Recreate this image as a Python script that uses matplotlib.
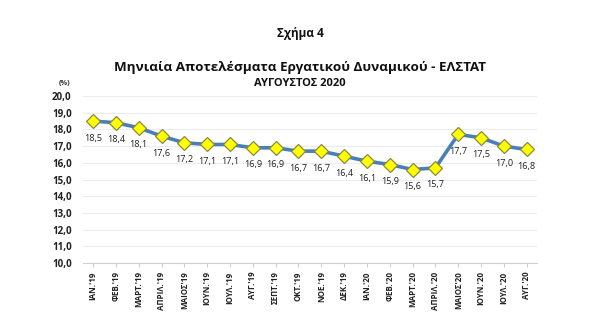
import matplotlib
matplotlib.use("Agg")
import matplotlib.pyplot as plt

plt.rcParams['font.family'] = ['Open Sans', 'DejaVu Sans']

months = ["ΙΑΝ.'19", "ΦΕΒ.'19", "ΜΑΡΤ.'19", "ΑΠΡΙΛ.'19", "ΜΑΙΟΣ'19", "ΙΟΥΝ.'19",
          "ΙΟΥΛ.'19", "ΑΥΓ.'19", "ΣΕΠΤ.'19", "ΟΚΤ.'19", "ΝΟΕ.'19", "ΔΕΚ.'19",
          "ΙΑΝ.'20", "ΦΕΒ.'20", "ΜΑΡΤ.'20", "ΑΠΡΙΛ.'20", "ΜΑΙΟΣ'20", "ΙΟΥΝ.'20",
          "ΙΟΥΛ.'20", "ΑΥΓ.'20"]
rates = [18.5, 18.4, 18.1, 17.6, 17.2, 17.1, 17.1, 16.9, 16.9, 16.7, 16.7, 16.4,
         16.1, 15.9, 15.6, 15.7, 17.7, 17.5, 17.0, 16.8]
y_ticks = [10, 11, 12, 13, 14, 15, 16, 17, 18, 19, 20]

fig = plt.figure(figsize=(6, 3.31), dpi=100)
ax = fig.add_axes([0.138, 0.205, 0.757, 0.505])

x = list(range(len(months)))
ax.plot(x, rates, color='#4a7ebb', lw=2.6, zorder=2)
ax.plot(x, rates, ls='none', marker='D', ms=7.5, mfc='#ffff00', mec='#8a8a3a',
        mew=0.9, zorder=3)

for xi, v in zip(x, rates):
    ax.annotate(f"{v:.1f}".replace('.', ','), (xi, v), xytext=(0, -9),
                textcoords='offset points', ha='center', va='top',
                fontsize=6.6, color='#222222')

ax.set_ylim(10, 20)
ax.set_xlim(-0.45, 19.45)
ax.set_yticks(y_ticks)
ax.set_yticklabels([f"{t:.1f}".replace('.', ',') for t in y_ticks],
                   fontsize=7, fontweight='bold', color='#222222')
ax.set_xticks(x)
ax.set_xticklabels(months, rotation=90, fontsize=5.8, fontweight='bold',
                   color='#222222')
ax.tick_params(axis='y', length=0, pad=8)
ax.tick_params(axis='x', length=3, color='#cccccc', pad=3)
ax.grid(axis='y', color='#ececec', lw=0.8)
ax.set_axisbelow(True)
for s in ['top', 'right', 'left']:
    ax.spines[s].set_visible(False)
ax.spines['bottom'].set_color('#d0d0d0')

fig.text(0.5, 0.9, "Σχήμα 4", ha='center', va='center', fontsize=8.5,
         fontweight='bold', color='#111111')
fig.text(0.5, 0.797, "Μηνιαία Αποτελέσματα Εργατικού Δυναμικού - ΕΛΣΤΑΤ",
         ha='center', va='center', fontsize=9.7, fontweight='bold', color='#111111')
fig.text(0.5, 0.749, "ΑΥΓΟΥΣΤΟΣ 2020", ha='center', va='center', fontsize=8,
         fontweight='bold', color='#111111')
fig.text(0.107, 0.749, "(%)", ha='center', va='center', fontsize=5.3,
         fontweight='bold', color='#333333')

fig.savefig("out.png", dpi=100, facecolor='white')
